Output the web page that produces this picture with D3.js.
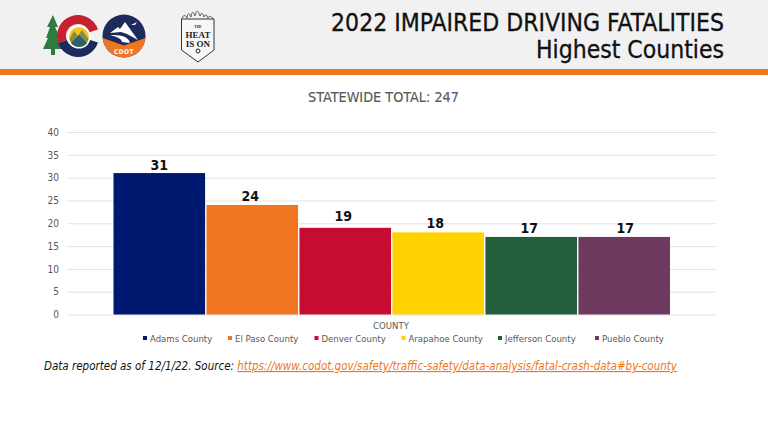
<!DOCTYPE html>
<html>
<head>
<meta charset="utf-8">
<script src="https://cdnjs.cloudflare.com/ajax/libs/d3/7.8.5/d3.min.js"></script>
<style>
  html, body { margin: 0; padding: 0; background: #fff; }
  text { font-family: "DejaVu Sans Condensed", "DejaVu Sans", sans-serif; }
</style>
</head>
<body>
<svg id="chart" width="768" height="432"></svg>
<script>
const counties = ["Adams County", "El Paso County", "Denver County", "Arapahoe County", "Jefferson County", "Pueblo County"]
const fatalities = [31, 24, 19, 18, 17, 17]
const barColors = ["#001970", "#f07622", "#c60c30", "#ffd200", "#235f3c", "#6f3a5f"]
const yTicks = [0, 5, 10, 15, 20, 25, 30, 35, 40]
const titleLines = ["2022 IMPAIRED DRIVING FATALITIES", "Highest Counties"]
const subtitle = "STATEWIDE TOTAL: 247"
const axisTitle = "COUNTY"
const noteText = "Data reported as of 12/1/22. Source: "
const noteLink = "https://www.codot.gov/safety/traffic-safety/data-analysis/fatal-crash-data#by-county"

const svg = d3.select("#chart")

drawHeader()
drawLogos()
drawChart()
drawNote()

function drawHeader() {
    svg.append("rect").attr("width", 768).attr("height", 69).attr("fill", "#f1f1f1")
    svg.append("rect").attr("y", 69).attr("width", 768).attr("height", 6).attr("fill", "#f07622")
    svg.selectAll(".title")
        .data(titleLines)
        .enter()
        .append("text")
        .attr("class", "title")
        .attr("x", 724)
        .attr("y", (d, i) => 30.5 + i * 27)
        .attr("text-anchor", "end")
        .attr("font-size", 24.5)
        .attr("fill", "#111")
        .attr("stroke", "#111")
        .attr("stroke-width", 0.3)
        .text(d => d)
}

function drawLogos() {
    // colorado C with the tree
    const rad = d3.scaleLinear().domain([0, 180]).range([0, Math.PI])
    const ring = d3.arc().innerRadius(12).outerRadius(21)
    const co = svg.append("g")
    co.append("path")
        .attr("d", "M53 15 L58 27 L55 27 L60 38 L57 38 L63 49 L55 49 L55 55 L51 55 L51 49 L43 49 L48 38 L46 38 L50 27 L47 27 Z")
        .attr("fill", "#2f7a3f")
    co.append("path")
        .attr("transform", "translate(78,36)")
        .attr("d", ring({startAngle: rad(-110), endAngle: rad(72)}))
        .attr("fill", "#c8202f")
    co.append("path")
        .attr("transform", "translate(78,36)")
        .attr("d", ring({startAngle: rad(108), endAngle: rad(250)}))
        .attr("fill", "#1d2a5c")
    co.append("circle").attr("cx", 79).attr("cy", 37).attr("r", 11.5).attr("fill", "#fff")
    co.append("circle").attr("cx", 79).attr("cy", 37).attr("r", 10).attr("fill", "#f5c518")
    co.append("path").attr("d", "M69.5 39 L74 31 L78 36 L82 30 L88.5 39 A10 10 0 0 1 69.5 39 Z").attr("fill", "#7f8f4a")
    co.append("path").attr("d", "M71 43 L79 35 L87 43 A10 10 0 0 1 71 43 Z").attr("fill", "#2f5f6a")

    // cdot roundel
    const cdot = svg.append("g")
    cdot.append("circle").attr("cx", 124).attr("cy", 36).attr("r", 21.5).attr("fill", "#1d2a5c")
    cdot.append("path").attr("d", "M102.6 38 L124 45.5 L145.4 38 A21.5 21.5 0 0 1 102.6 38 Z").attr("fill", "#f07622")
    cdot.append("path").attr("d", "M110 33 L118 27 L120 29 L125 22 L138 40 L127 34 L121 32 Z").attr("fill", "#fff")
    cdot.append("path").attr("d", "M110 35 Q128 34 130 43 L122 42 Q122 38 110 35 Z").attr("fill", "#fff")
    cdot.append("path").attr("d", "M131 25 L137 22 L135 25 Z").attr("fill", "#fff")
    cdot.append("text").attr("x", 124).attr("y", 53.5).attr("text-anchor", "middle")
        .attr("font-size", 6.5).attr("font-weight", "bold").attr("letter-spacing", 0.5)
        .attr("fill", "#fff").text("CDOT")

    // heat is on badge
    const heat = svg.append("g")
    heat.append("path")
        .attr("d", "M182 19 Q184 12 187 18 Q188 10 191 17 Q192 8 195 16 Q197 6 200 16 Q202 10 204 17 Q206 12 208 18 Q210 14 213 19")
        .attr("fill", "none").attr("stroke", "#444").attr("stroke-width", 0.8)
    heat.append("path")
        .attr("d", "M181.5 19 L214 19 L214 50 L198 62 L181.5 50 Z")
        .attr("fill", "#f7f7f7").attr("stroke", "#333").attr("stroke-width", 1)
    const heatLines = [["THE", 28, 3.5], ["HEAT", 37.5, 9], ["IS ON", 47, 9]]
    heat.selectAll("text")
        .data(heatLines)
        .enter()
        .append("text")
        .attr("x", 198)
        .attr("y", d => d[1])
        .attr("text-anchor", "middle")
        .attr("font-size", d => d[2])
        .attr("font-weight", "bold")
        .style("font-family", "'Liberation Serif', serif")
        .attr("fill", "#222")
        .text(d => d[0])
    heat.append("circle").attr("cx", 198).attr("cy", 51).attr("r", 2).attr("fill", "none")
        .attr("stroke", "#222").attr("stroke-width", 1)
}

function drawChart() {
    svg.append("text")
        .attr("x", 383.5)
        .attr("y", 102)
        .attr("text-anchor", "middle")
        .attr("font-size", 14.3)
        .attr("fill", "#595959")
        .attr("stroke", "#595959")
        .attr("stroke-width", 0.15)
        .text(subtitle)

    const x = d3.scaleBand().domain(counties).range([113.5, 670]).paddingInner(0.015).paddingOuter(0)
    const y = d3.scaleLinear().domain([0, 40]).range([314.5, 132])
    const color = d3.scaleOrdinal().domain(counties).range(barColors)

    const yAxis = svg.append("g")
        .attr("transform", "translate(67,0)")
        .call(d3.axisLeft(y).tickValues(yTicks).tickSize(-649).tickPadding(8))
    yAxis.select(".domain").remove()
    yAxis.selectAll("line").attr("stroke", "#e3e3e3").attr("stroke-width", 1)
    yAxis.selectAll("text").attr("font-size", 10).attr("fill", "#595959")

    const rows = counties.map((c, i) => ({county: c, value: fatalities[i]}))

    svg.selectAll(".bar")
        .data(rows)
        .enter()
        .append("rect")
        .attr("class", "bar")
        .attr("x", d => x(d.county))
        .attr("y", d => y(d.value))
        .attr("width", x.bandwidth())
        .attr("height", d => y(0) - y(d.value))
        .attr("fill", d => color(d.county))

    // the labels were dragged by hand in the original, so each gets its own nudge
    const labelDx = d3.scaleOrdinal().domain(counties).range([0, -2, -2, -3, -2, 1])
    const labelDy = d3.scaleOrdinal().domain(counties).range([-3, -4, -7, -4, -4, -4])
    svg.selectAll(".value")
        .data(rows)
        .enter()
        .append("text")
        .attr("class", "value")
        .attr("x", d => x(d.county) + x.bandwidth() / 2 + labelDx(d.county))
        .attr("y", d => y(d.value) + labelDy(d.county))
        .attr("text-anchor", "middle")
        .attr("font-size", 14)
        .attr("font-weight", "bold")
        .attr("fill", "#111")
        .text(d => d.value)

    svg.append("text")
        .attr("x", 391)
        .attr("y", 329)
        .attr("text-anchor", "middle")
        .attr("font-size", 9.5)
        .attr("fill", "#595959")
        .text(axisTitle)

    // legend, placed by the measured width of each label
    const legendX = d3.scaleOrdinal().domain(counties).range([143, 228, 314.5, 401.5, 498, 595])
    const legend = svg.selectAll(".legend")
        .data(rows)
        .enter()
        .append("g")
        .attr("class", "legend")
        .attr("transform", d => "translate(" + legendX(d.county) + ",339)")
    legend.append("rect")
        .attr("x", 0).attr("y", -3).attr("width", 4).attr("height", 4)
        .attr("fill", d => color(d.county))
    legend.append("text")
        .attr("x", 7)
        .attr("y", 3)
        .attr("font-size", 9.5)
        .attr("fill", "#595959")
        .text(d => d.county)
}

function drawNote() {
    const note = svg.append("text")
        .attr("x", 44)
        .attr("y", 370)
        .attr("font-size", 11.5)
        .attr("font-style", "italic")
        .attr("fill", "#111")
    note.append("tspan").text(noteText)
    note.append("tspan")
        .attr("fill", "#f07622")
        .attr("text-decoration", "underline")
        .text(noteLink)
}
</script>
</body>
</html>
